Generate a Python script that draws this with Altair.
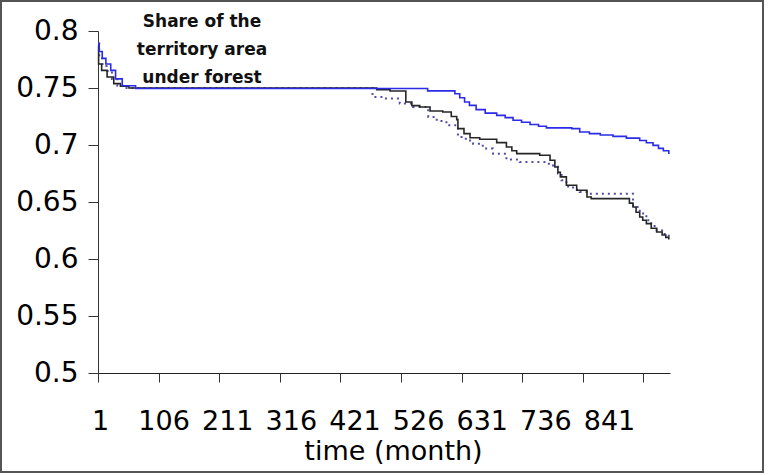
import altair as alt
import pandas as pd

# ---- data ----
blue_month = [1, 3, 8, 14, 22, 30, 41, 63, 545, 590, 598, 606, 614, 625, 640, 659, 673, 686, 700,
              714, 728, 741, 783, 796, 812, 830, 851, 873, 895, 906, 917, 926, 934, 943]
blue_value = [0.789, 0.782, 0.776, 0.771, 0.7655, 0.758, 0.752, 0.7495, 0.7475, 0.745, 0.7415,
              0.7377, 0.7348, 0.731, 0.728, 0.726, 0.724, 0.7217, 0.720, 0.718, 0.7165, 0.715,
              0.7144, 0.7114, 0.710, 0.7088, 0.7076, 0.706, 0.704, 0.702, 0.6997, 0.697, 0.695, 0.692]

black_month = [1, 2, 7, 16, 27, 38, 52, 461, 483, 509, 519, 532, 549, 570, 584, 593, 595, 605, 615,
               631, 659, 675, 684, 692, 730, 747, 755, 760, 764, 774, 791, 808, 815, 874, 878, 884,
               889, 895, 900, 906, 914, 923, 932, 938, 943]
black_value = [0.787, 0.771, 0.7655, 0.7596, 0.7538, 0.7515, 0.750, 0.7486, 0.7474, 0.7377, 0.7345,
               0.7333, 0.7298, 0.7289, 0.725, 0.7223, 0.7144, 0.710, 0.7064, 0.705, 0.7021, 0.6982,
               0.695, 0.6924, 0.691, 0.6866, 0.6807, 0.676, 0.672, 0.6647, 0.6603, 0.6544, 0.653,
               0.653, 0.649, 0.6456, 0.641, 0.6368, 0.634, 0.631, 0.627, 0.6237, 0.621, 0.619, 0.617]

dotted_month = [1, 3, 8, 15, 24, 33, 45, 454, 472, 499, 521, 546, 560, 576, 595, 608, 620, 636,
                653, 675, 697, 741, 752, 760, 766, 774, 785, 796, 810, 884, 895, 906, 914, 923,
                932, 943]
dotted_value = [0.789, 0.776, 0.771, 0.765, 0.758, 0.752, 0.750, 0.742, 0.7407, 0.7363, 0.7333,
                0.7246, 0.721, 0.7173, 0.707, 0.704, 0.7012, 0.697, 0.6924, 0.6872, 0.685, 0.6836,
                0.682, 0.675, 0.669, 0.6637, 0.661, 0.6588, 0.6573, 0.6456, 0.640, 0.634, 0.629,
                0.625, 0.622, 0.619]

tick_months = [1, 101, 201, 301, 401, 501, 601, 701, 801, 901]
label_months = [1, 106, 211, 316, 421, 526, 631, 736, 841]
y_ticks = [0.5, 0.55, 0.6, 0.65, 0.7, 0.75, 0.8]
annotation_lines = ["Share of the", "territory area", "under forest"]
x_title = "time (month)"

FONT = "DejaVu Sans"

blue_df = pd.DataFrame({"month": blue_month, "value": blue_value})
black_df = pd.DataFrame({"month": black_month, "value": black_value})
dotted_df = pd.DataFrame({"month": dotted_month, "value": dotted_value})

x_scale = alt.Scale(domain=[1, 945], nice=False, zero=False)
y_enc = alt.Y("value:Q",
              scale=alt.Scale(domain=[0.5, 0.8], nice=False, zero=False),
              axis=alt.Axis(values=y_ticks, format=".2~f", title=None, grid=False,
                            tickSize=10, labelPadding=10, labelFontSize=28, labelFont=FONT,
                            labelColor="#000000", domainColor="#333333", tickColor="#333333",
                            labelFlush=False, labelOverlap=False))

tick_axis = alt.Axis(values=tick_months, labels=False, ticks=True, tickSize=9, domain=True,
                     title=None, grid=False, orient="bottom", domainColor="#222222",
                     tickColor="#333333")
label_axis = alt.Axis(values=label_months, ticks=False, tickSize=0, domain=False, grid=False,
                      orient="bottom", labelFontSize=27, labelFont=FONT, labelColor="#000000",
                      labelPadding=56, labelBaseline="alphabetic", labelOffset=2,
                      labelFlush=False, labelOverlap=False, title=x_title, titleFont=FONT,
                      titleFontSize=27, titleFontWeight="normal", titleColor="#000000",
                      titleX=295, titleY=86, titleBaseline="alphabetic", titleAlign="center",
                      titleAnchor="start")

dotted = alt.Chart(dotted_df).mark_line(
    interpolate="step-after", color="#4f4fa8", strokeWidth=2, strokeDash=[2, 4]
).encode(x=alt.X("month:Q", scale=x_scale, axis=None), y=y_enc)

black = alt.Chart(black_df).mark_line(
    interpolate="step-after", color="#262626", strokeWidth=1.6
).encode(x=alt.X("month:Q", scale=x_scale, axis=label_axis), y=y_enc)

blue = alt.Chart(blue_df).mark_line(
    interpolate="step-after", color="#2b2be8", strokeWidth=1.6
).encode(x=alt.X("month:Q", scale=x_scale, axis=tick_axis), y=y_enc)

note = alt.Chart(pd.DataFrame({"t": ["\n".join(annotation_lines)]})).mark_text(
    font=FONT, fontSize=17, fontWeight="bold", align="center", baseline="alphabetic",
    lineBreak="\n", lineHeight=28, color="#111111"
).encode(text="t:N", x=alt.value(104), y=alt.value(-4))

frame = alt.Chart(pd.DataFrame({"k": [0]})).mark_rect(
    fill=None, stroke="#555555", strokeWidth=2, clip=False
).encode(x=alt.value(-97), x2=alt.value(665), y=alt.value(-30), y2=alt.value(441))

chart = alt.layer(dotted, black, blue, note, frame).resolve_axis(x="independent").properties(
    width=572, height=342,
    autosize=alt.AutoSizeParams(type="none"),
    padding={"left": 98, "top": 31, "right": 109, "bottom": 102},
    background="white",
).configure_view(stroke=None)

chart.save("out.html", embed_options={"renderer": "svg", "actions": False})
